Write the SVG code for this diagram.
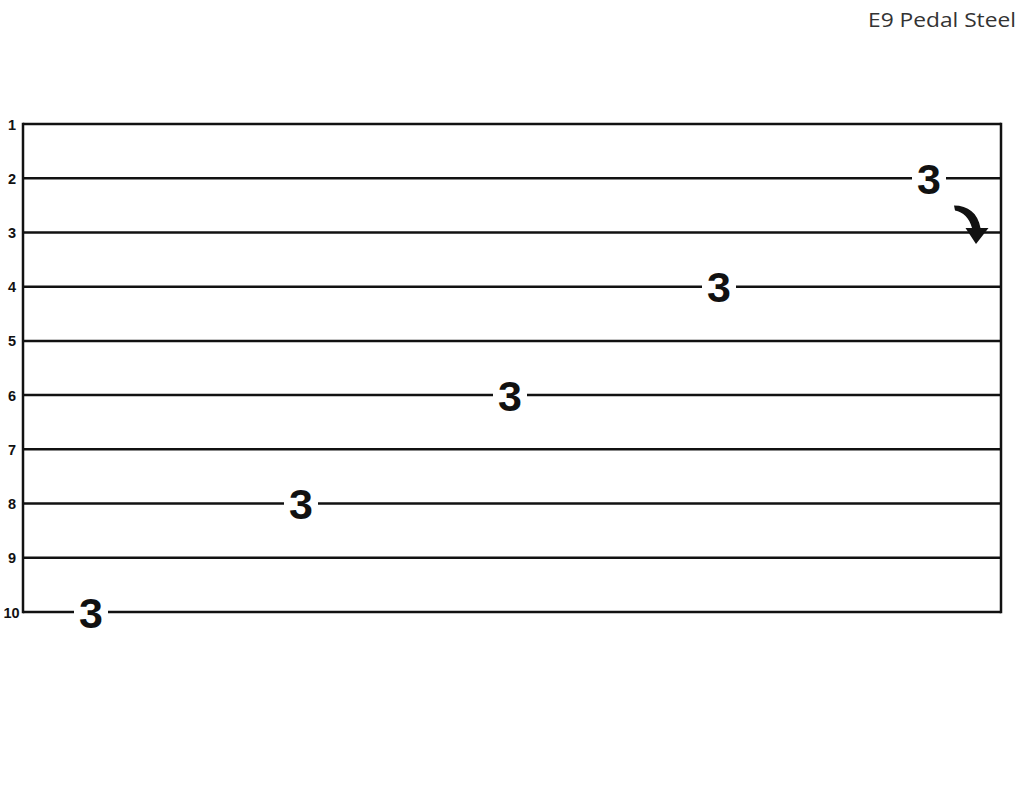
<svg xmlns="http://www.w3.org/2000/svg" width="1024" height="791" viewBox="0 0 1024 791">
<style>
.str{stroke:#111;stroke-width:2.5;fill:none}
.lbl{font-family:"Liberation Sans",Arial,sans-serif;font-weight:bold;font-size:14.5px;fill:#111;text-anchor:middle}
.num{font-family:"Liberation Sans",Arial,sans-serif;font-weight:bold;font-size:43px;fill:#111;text-anchor:middle}
.bg{fill:#fff}
.title{font-family:"Open Sans","Liberation Sans",Arial,sans-serif;font-size:19.5px;fill:#333}
</style>
<rect width="1024" height="791" fill="#fff"/>
<text class="title" x="868" y="27" textLength="148" lengthAdjust="spacingAndGlyphs">E9 Pedal Steel</text>
<g id="staff">
<line class="str" x1="23" y1="124" x2="1001" y2="124"/>
<line class="str" x1="23" y1="178.2" x2="1001" y2="178.2"/>
<line class="str" x1="23" y1="232.4" x2="1001" y2="232.4"/>
<line class="str" x1="23" y1="286.7" x2="1001" y2="286.7"/>
<line class="str" x1="23" y1="340.9" x2="1001" y2="340.9"/>
<line class="str" x1="23" y1="395.1" x2="1001" y2="395.1"/>
<line class="str" x1="23" y1="449.3" x2="1001" y2="449.3"/>
<line class="str" x1="23" y1="503.6" x2="1001" y2="503.6"/>
<line class="str" x1="23" y1="557.8" x2="1001" y2="557.8"/>
<line class="str" x1="23" y1="612" x2="1001" y2="612"/>
<line class="str" x1="23" y1="122.8" x2="23" y2="613.2"/>
<line class="str" x1="1001" y1="122.8" x2="1001" y2="613.2"/>
</g>
<g id="labels">
<text class="lbl" x="12" y="129.5">1</text>
<text class="lbl" x="12" y="183.5">2</text>
<text class="lbl" x="12" y="237.5">3</text>
<text class="lbl" x="12" y="292">4</text>
<text class="lbl" x="12" y="346">5</text>
<text class="lbl" x="12" y="400.5">6</text>
<text class="lbl" x="12" y="454.5">7</text>
<text class="lbl" x="12" y="509">8</text>
<text class="lbl" x="12" y="563">9</text>
<text class="lbl" x="11.5" y="617.5">10</text>
</g>
<g id="note-s2">
<rect class="bg" x="912" y="158" width="34" height="40"/>
<text class="num" x="929" y="193.5">3</text>
</g>
<g id="note-s4">
<rect class="bg" x="702" y="267" width="34" height="40"/>
<text class="num" x="719" y="302">3</text>
</g>
<g id="note-s6">
<rect class="bg" x="493" y="375" width="34" height="40"/>
<text class="num" x="510" y="410.5">3</text>
</g>
<g id="note-s8">
<rect class="bg" x="284" y="484" width="34" height="40"/>
<text class="num" x="301" y="519">3</text>
</g>
<g id="note-s10">
<rect class="bg" x="74" y="592" width="34" height="40"/>
<text class="num" x="91" y="627.5">3</text>
</g>
<g id="connectors">
<path d="M 954 205.5 C 968 205.5, 978 213, 980.5 228 L 988.5 228 L 976 244 L 965.5 228 L 972 228 C 969.5 218, 963 212, 955 210.5 Z" fill="#111"/>
</g>
</svg>
